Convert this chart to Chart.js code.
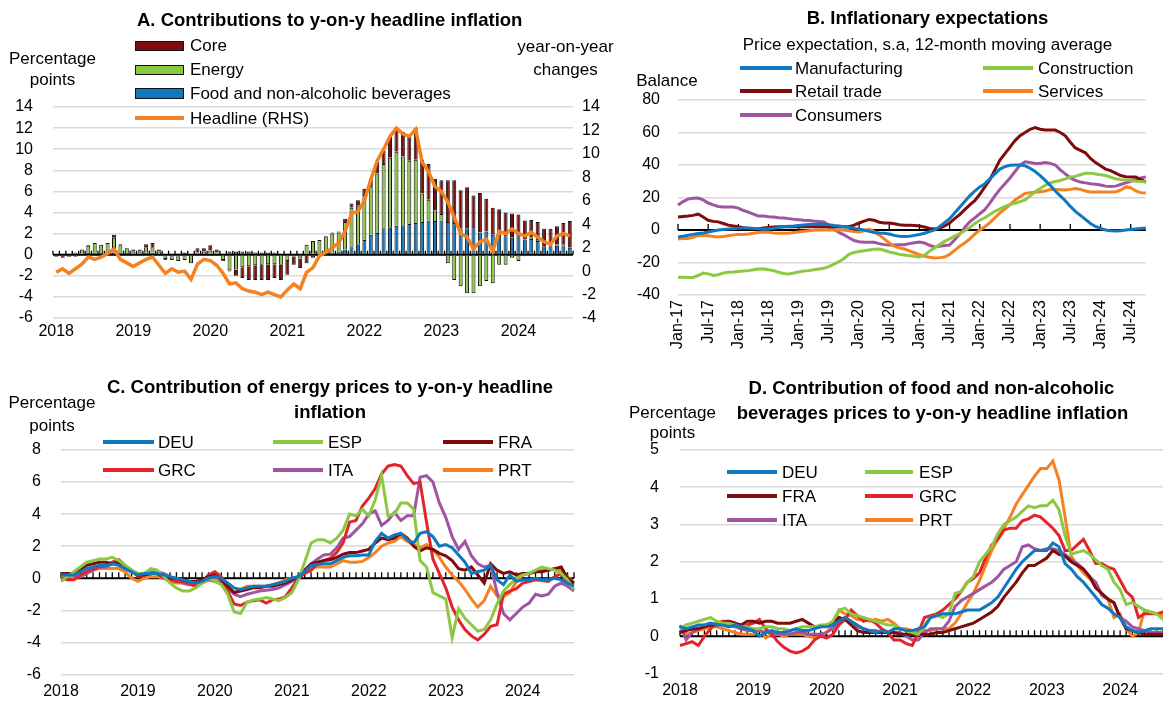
<!DOCTYPE html>
<html>
<head>
<meta charset="utf-8">
<script src="https://cdn.jsdelivr.net/npm/chart.js@4.4.1/dist/chart.umd.min.js"></script>
<style>
html, body { margin: 0; padding: 0; background: #fff; width: 1163px; height: 704px; overflow: hidden; }
body { position: relative; font-family: "Liberation Sans", Arial, sans-serif; color: #000; }
canvas { position: absolute; }
.t { position: absolute; white-space: nowrap; line-height: 1; }
.sw { position: absolute; box-sizing: border-box; }
</style>
</head>
<body>
<canvas id="panelA" width="620" height="350" style="left:0;top:0"></canvas>
<canvas id="panelB" width="570" height="370" style="left:600px;top:0"></canvas>
<canvas id="panelC" width="620" height="344" style="left:0;top:360px"></canvas>
<canvas id="panelD" width="560" height="344" style="left:620px;top:360px"></canvas>
<script>
// ---- data ----
var MON = ["Jan","Feb","Mar","Apr","May","Jun","Jul","Aug","Sep","Oct","Nov","Dec"];
function monthLabels(y0, n) {
    var out = [];
    for (var i = 0; i < n; i++) out.push(MON[i % 12] + "-" + String(y0 + Math.floor(i / 12)).slice(2));
    return out;
}
var monthsA = monthLabels(2018, 81);   // Jan-18 .. Sep-24
var monthsB = monthLabels(2017, 94);   // Jan-17 .. Oct-24

// A. contributions (percentage points) and headline (RHS, %)
var headline = [
    -0.1, 0.2, -0.2, 0.2, 0.6, 1.2, 1.0, 1.2, 1.5, 1.9, 1.0, 0.7,
    0.4, 0.7, 1.0, 1.2, 0.5, -0.2, 0.2, -0.1, 0.0, -0.7, 0.6, 1.0,
    0.9, 0.5, -0.2, -1.1, -1.0, -1.5, -1.7, -1.8, -2.0, -1.8, -2.0, -2.2,
    -1.6, -1.1, -1.5, -0.1, 0.3, 1.3, 1.6, 2.0, 2.4, 3.4, 4.9, 5.1,
    6.0, 7.8, 9.4, 10.4, 11.5, 12.2, 11.7, 11.5, 12.1, 9.3, 8.5, 7.2,
    6.8, 5.9, 4.6, 3.2, 2.9, 1.9, 2.5, 2.7, 1.7, 3.4, 3.2, 3.6,
    3.2, 3.0, 3.3, 2.9, 2.5, 2.3, 3.0, 3.2, 3.0
];
var core = [
    -0.1, -0.2, -0.1, -0.1, 0.0, 0.1, 0.0, -0.1, 0.0, 0.3, 0.1, -0.1,
    0.2, 0.2, 0.3, 0.4, 0.2, -0.1, 0.1, 0.1, 0.2, 0.1, 0.4, 0.3,
    0.5, 0.3, -0.1, -0.1, -0.6, -1.0, -1.3, -1.4, -1.45, -1.5, -1.3, -1.45,
    -1.3, -0.75, -0.9, -0.8, -0.3, -0.2, 0.0, 0.1, 0.1, 0.3, 0.4, 0.5,
    0.6, 0.8, 1.1, 1.3, 2.0, 2.25, 2.35, 2.3, 3.0, 3.2, 3.4, 3.0,
    3.2, 3.95, 4.05, 3.6, 3.9, 3.1, 3.75, 3.1, 2.55, 2.4, 2.25, 2.3,
    2.05, 1.8, 1.7, 1.7, 1.65, 1.55, 1.75, 2.0, 2.55
];
var energy = [
    0.0, -0.1, -0.1, 0.2, 0.4, 0.7, 0.9, 0.8, 1.0, 1.4, 0.75, 0.45,
    0.2, 0.3, 0.5, 0.5, 0.3, -0.3, -0.3, -0.4, -0.3, -0.7, 0.2, 0.3,
    0.3, 0.1, -0.5, -1.5, -1.4, -1.2, -1.1, -1.0, -0.95, -0.9, -0.9, -0.95,
    -0.6, -0.2, -0.35, 0.85, 1.2, 1.3, 1.55, 1.8, 1.8, 2.6, 3.75, 3.65,
    4.25, 4.5, 5.65, 6.1, 6.6, 7.0, 6.5, 6.0, 6.0, 2.7, 1.95, 1.0,
    0.6, -0.8, -2.4, -3.0, -3.65, -3.65, -3.0, -2.5, -2.7, -0.95, -0.95, -0.3,
    -0.6, -0.15, 0.1, 0.1, -0.1, 0.1, 0.1, 0.2, -0.1
];
var food = [
    -0.1, 0.1, 0.1, -0.1, 0.1, 0.15, 0.2, 0.15, 0.1, 0.2, 0.15, 0.15,
    0.1, -0.1, 0.2, 0.2, 0.0, -0.1, -0.2, -0.2, -0.2, -0.1, 0.0, 0.0,
    0.1, 0.1, 0.1, 0.3, 0.3, 0.3, 0.3, 0.2, 0.2, 0.2, 0.2, 0.1,
    0.1, 0.1, 0.1, 0.1, 0.1, 0.1, 0.2, 0.2, 0.3, 0.5, 0.7, 1.0,
    1.4, 1.9, 2.05, 2.5, 2.6, 2.75, 2.8, 2.9, 3.0, 3.1, 3.25, 3.2,
    3.25, 3.1, 3.0, 2.5, 2.5, 2.5, 2.1, 2.2, 1.9, 1.9, 1.75, 1.6,
    1.75, 1.45, 1.5, 1.3, 0.8, 0.8, 0.85, 0.8, 0.65
];

// B. price expectations (balance)
var manufacturing = [
    -4.3, -3.8, -3.2, -2.7, -2.2, -1.8, -1.2, -0.6, 0, 0.3, 0.6, 0.8,
    1, 1.2, 1.2, 1, 0.8, 0.6, 0.6, 1, 1.5, 2, 2.3, 2.5,
    2.8, 3.1, 3.4, 3.6, 3.7, 3.6, 3.3, 2.8, 2.4, 2, 1.5, 1,
    0.5, 0, -0.8, -1.5, -1.8, -2, -2.5, -3.3, -3.8, -4, -3.8, -3.3,
    -2.8, -2, -1, 0, 2, 4.5, 7, 10.5, 14, 17.5, 21, 24,
    26.5, 28.5, 31.5, 34.5, 37.5, 39, 39.8, 40, 40, 39.5, 38, 36,
    33.5, 30.5, 27.5, 24, 21, 18, 14.5, 11.5, 9, 6.5, 4, 2.2,
    1, 0, -0.5, -0.6, -0.4, 0, 0.3, 0.6, 0.9, 1.2
];
var retailTrade = [
    8, 8.3, 8.6, 9, 9.8, 8, 6, 5.3, 5, 4, 3, 2.5,
    2, 1.4, 1, 0.6, 0.8, 1.2, 1.5, 1.8, 2, 2, 2, 2,
    2, 2, 2, 2, 2, 2, 2, 2, 2, 2, 2, 3,
    4.3, 5.5, 6.5, 6, 4.8, 4.3, 4.3, 3.8, 3.3, 3, 3, 2.8,
    2.5, 1.8, 1, 0.6, 1, 2.5, 4.3, 7, 9.5, 12.5, 15.5, 18,
    22, 26.5, 31, 37, 43, 47, 51, 55, 58, 60, 62, 63,
    62, 61.5, 61.5, 61.5, 60, 58, 54, 50.5, 49, 47.5, 44, 41.5,
    39.5, 37.5, 36.5, 35, 33.5, 32.8, 32.6, 32.6, 31, 29.5
];
var consumers = [
    15.4, 17.5, 19, 19.5, 19.7, 18.5, 16.6, 15.5, 14.5, 14.2, 14.2, 14.2,
    13.5, 12, 11, 9.8, 8.6, 8.6, 8.2, 8, 7.6, 7.4, 7, 6.6,
    6.3, 6, 5.8, 5.5, 5.3, 5, 3, 0.5, -1.5, -3, -4.8, -6.5,
    -7.2, -7.6, -7.5, -7.6, -8.4, -9, -9.2, -9.2, -9, -9, -8.4, -7.8,
    -7.4, -8, -9.4, -10.4, -10, -9.5, -9.2, -6, -2.5, 1.5, 5, 7.5,
    10, 12.5, 16.5, 21, 25, 28.5, 32, 36, 40, 42, 41.5, 41,
    41, 41.5, 41, 40, 37, 34.5, 32, 30.5, 29.5, 29, 28.5, 28.2,
    27.7, 27, 26.8, 27, 28, 29, 30, 31, 32, 32.6
];
var construction = [
    -29, -29, -29.2, -29.2, -28, -26.5, -27, -28, -27.5, -26.5, -26, -25.8,
    -25.5, -25.3, -25, -24.5, -24, -24, -24.5, -25, -26, -26.8, -27, -26.5,
    -25.8, -25.3, -25, -24.5, -24, -23.5, -22.5, -21, -19.5, -17.5, -15, -13.8,
    -13.2, -12.8, -12.3, -11.8, -11.7, -12.5, -13.5, -14.2, -15, -15.4, -15.8, -16.2,
    -16.6, -15.5, -13, -11, -9, -7, -5.5, -3.8, -2.2, -0.5, 1.5, 4,
    6, 7.5, 9.5, 11.5, 13, 14.5, 15.8, 16.5, 17.5, 18.5, 21, 23.5,
    25.5, 27.5, 29, 29.8, 30.5, 31.5, 32.6, 33, 34, 35, 35, 34.5,
    34, 33.5, 32.5, 31.5, 31, 30.8, 30.5, 30, 29.8, 29.5
];
var services = [
    -5.5, -5.3, -5.2, -4.5, -3.5, -3.2, -3.6, -4, -4.3, -4, -3.5, -3,
    -2.8, -2.7, -2.5, -2, -1.5, -1.2, -1.4, -1.8, -2, -2, -2, -1.6,
    -1.2, -0.8, -0.5, -0.2, 0, 0, 0, 0, 0, 0, -0.5, -1,
    -1.2, -0.5, 0.6, -1, -3, -5.5, -8, -10, -11, -11.7, -12.8, -14,
    -15.2, -16.2, -16.8, -17.2, -17, -16.6, -15, -12.5, -10, -8, -5.5, -2.5,
    0, 2, 4.5, 7.5, 10.5, 13, 15.5, 18.5, 20.5, 22.5, 23, 23.3,
    23.5, 24, 25, 25, 24.8, 24.6, 25, 25.5, 25, 24, 23.4, 23.4,
    23.4, 23.4, 23.4, 23.6, 24.5, 26.5, 26, 24, 23, 22.7
];

// C. energy contributions by country
var energyDEU = [
    0.2, 0.2, 0.2, 0.4, 0.6, 0.7, 0.8, 0.8, 0.9, 0.8, 0.6, 0.4,
    0.2, 0.3, 0.3, 0.3, 0.2, 0.1, 0.0, -0.1, -0.2, -0.3, -0.2, 0.0,
    0.1, 0.0, -0.3, -0.6, -0.7, -0.6, -0.5, -0.5, -0.5, -0.4, -0.3, -0.2,
    0.0, 0.1, 0.4, 0.8, 0.85, 0.9, 0.9, 1.1, 1.3, 1.4, 1.4, 1.45,
    1.45, 2.3, 2.8, 2.5, 2.7, 2.8, 2.4, 2.2, 2.8, 2.9, 2.6, 2.0,
    2.1, 1.9, 1.45, 1.0, 0.3, 0.4, 0.5, 0.8, -0.1, -0.4, 0.2, -0.2,
    -0.1, -0.1, 0.0, -0.1, -0.1, 0.0, -0.1, -0.3, -0.5
];
var energyESP = [
    -0.2, 0.1, 0.4, 0.7, 1.0, 1.1, 1.2, 1.2, 1.3, 1.1, 0.8, 0.5,
    0.3, 0.3, 0.6, 0.5, 0.1, -0.3, -0.6, -0.8, -0.8, -0.6, -0.3, 0.0,
    -0.2, -0.4, -1.0, -2.1, -2.2, -1.5, -1.35, -1.3, -1.2, -1.3, -1.4, -1.2,
    -0.9, -0.1, 1.0, 2.2, 2.4, 2.4, 2.2, 2.5, 3.0, 4.0, 3.9, 4.3,
    3.9, 4.9, 6.4, 3.9, 4.0, 4.7, 4.7, 4.3, 1.1, 0.7, -0.9, -1.1,
    -1.3, -3.7, -1.9, -2.5, -2.9, -3.3, -3.2, -2.6, -1.6, -0.8, -0.4, 0.0,
    0.2, 0.3, 0.5, 0.7, 0.6, 0.5, 0.3, -0.1, -0.7
];
var energyFRA = [
    0.3, 0.3, 0.3, 0.5, 0.8, 0.9, 1.0, 1.0, 0.9, 1.0, 0.7, 0.4,
    0.2, 0.2, 0.3, 0.3, 0.1, 0.0, 0.0, -0.1, -0.2, -0.2, -0.1, 0.1,
    0.2, -0.1, -0.5, -0.9, -0.8, -0.7, -0.6, -0.6, -0.5, -0.5, -0.4, -0.3,
    -0.1, 0.1, 0.5, 0.9, 1.0, 1.1, 1.15, 1.3, 1.5, 1.6, 1.6, 1.7,
    1.8, 2.2, 2.5, 2.4, 2.5, 2.8, 2.5, 2.0, 1.7, 1.9, 1.8, 1.55,
    1.4, 1.1, 0.6, 0.5, 0.7, 0.2, -0.3, 0.9, 0.5, 0.3, 0.4, 0.2,
    0.3, 0.3, 0.4, 0.4, 0.5, 0.6, 0.7, 0.0, -0.3
];
var energyGRC = [
    0.0, -0.1, -0.1, 0.2, 0.4, 0.6, 0.7, 0.8, 1.0, 1.15, 0.8, 0.5,
    0.1, 0.2, 0.3, 0.3, 0.0, -0.1, -0.2, -0.2, -0.3, -0.5, -0.2, 0.2,
    0.4, 0.1, -0.8, -1.6, -1.7, -1.5, -1.4, -1.35, -1.55, -1.35, -1.3, -1.15,
    -0.6, 0.0, 0.3, 0.5, 0.9, 1.1, 1.25, 1.6, 2.2, 3.5, 3.6, 4.5,
    5.0, 5.6, 6.5, 7.0, 7.1, 7.0, 6.4, 5.9, 6.0, 3.5, 1.2, 0.3,
    -0.6, -1.8, -2.6, -3.2, -3.6, -3.85, -3.5, -3.0, -2.9, -1.0, -0.8, -0.65,
    -0.3, -0.2, -0.1, -0.15, -0.2, 0.1, 0.3, -0.3, -0.4
];
var energyITA = [
    0.3, 0.3, 0.2, 0.1, 0.3, 0.5, 0.7, 0.7, 0.9, 0.9, 0.6, 0.4,
    0.3, 0.3, 0.4, 0.4, 0.3, 0.1, -0.1, -0.3, -0.4, -0.3, -0.2, -0.1,
    -0.2, -0.3, -0.6, -1.0, -1.15, -1.0, -0.9, -0.8, -0.75, -0.7, -0.6, -0.4,
    -0.2, 0.0, 0.5, 0.9, 1.2, 1.45, 1.5, 1.9, 2.5, 2.6, 3.0, 3.4,
    4.0, 4.2, 3.3, 3.6, 4.1, 3.6, 3.9, 3.9, 6.3, 6.4, 6.0, 4.7,
    3.8, 2.6, 1.8, 2.3, 1.4, 0.9, 0.7, 0.8, -0.9, -2.2, -2.6, -2.2,
    -1.8, -1.55, -1.0, -1.1, -1.0, -0.5, -0.3, -0.5, -0.8
];
var energyPRT = [
    0.1, 0.1, 0.0, 0.1, 0.3, 0.5, 0.6, 0.6, 0.6, 0.6, 0.4, 0.0,
    -0.2, 0.0, 0.1, 0.1, 0.0, -0.2, -0.3, -0.3, -0.4, -0.5, -0.3, -0.1,
    0.1, -0.2, -0.5, -0.9, -0.7, -0.5, -0.5, -0.5, -0.5, -0.4, -0.3, -0.1,
    0.0, 0.1, 0.4, 0.7, 0.7, 0.7, 0.7, 0.9, 1.1, 1.0, 1.0, 1.05,
    1.3, 1.6, 2.0, 2.2, 2.3, 2.6, 2.3, 2.1, 1.9, 2.1, 1.8, 1.3,
    0.7, 0.2, -0.2, -0.7, -1.3, -1.8, -1.4, -0.5, -1.1, -1.15, -0.9, -0.2,
    0.2, 0.3, 0.4, 0.5, 0.5, 0.6, 0.5, 0.1, -0.3
];

// D. food and non-alcoholic beverages contributions by country
var foodDEU = [
    0.25, 0.2, 0.25, 0.3, 0.3, 0.35, 0.3, 0.3, 0.25, 0.3, 0.25, 0.2,
    0.15, 0.0, 0.1, 0.15, 0.1, 0.1, 0.15, 0.2, 0.15, 0.15, 0.2, 0.25,
    0.25, 0.3, 0.4, 0.5, 0.4, 0.3, 0.2, 0.15, 0.1, 0.15, 0.1, 0.2,
    0.2, 0.15, 0.15, 0.2, 0.25, 0.5, 0.55, 0.6, 0.6, 0.6, 0.65, 0.7,
    0.7, 0.7, 0.8, 0.9, 1.05, 1.3, 1.55, 1.8, 2.0, 2.15, 2.3, 2.3,
    2.3, 2.5, 2.4, 1.95, 1.8, 1.6, 1.45, 1.25, 1.05, 0.85, 0.75, 0.6,
    0.5, 0.25, 0.15, 0.1, 0.15, 0.2, 0.2, 0.2, 0.25
];
var foodESP = [
    0.2, 0.3, 0.35, 0.4, 0.45, 0.5, 0.4, 0.35, 0.35, 0.3, 0.25, 0.25,
    0.2, 0.2, 0.25, 0.25, 0.2, 0.2, 0.15, 0.2, 0.25, 0.25, 0.25, 0.3,
    0.3, 0.4, 0.7, 0.75, 0.6, 0.55, 0.5, 0.45, 0.4, 0.35, 0.3, 0.3,
    0.2, 0.15, 0.1, 0.05, 0.3, 0.5, 0.55, 0.5, 0.6, 1.15, 1.2, 1.45,
    1.6, 2.0, 2.2, 2.4, 2.75, 3.0, 3.1, 3.2, 3.35, 3.5, 3.45, 3.5,
    3.5, 3.65, 3.4, 2.7, 2.2, 2.25, 2.3, 2.2, 2.05, 1.9, 1.8, 1.45,
    1.25, 0.85, 0.9, 0.8, 0.7, 0.65, 0.6, 0.45, 0.35
];
var foodFRA = [
    0.1, 0.15, 0.2, 0.2, 0.25, 0.3, 0.3, 0.35, 0.4, 0.35, 0.3, 0.4,
    0.4, 0.35, 0.4, 0.4, 0.35, 0.35, 0.35, 0.4, 0.45, 0.35, 0.25, 0.25,
    0.3, 0.35, 0.5, 0.45, 0.3, 0.15, 0.1, 0.1, 0.1, 0.1, 0.1, 0.1,
    0.05, 0.05, 0.05, 0.05, 0.05, 0.05, 0.1, 0.1, 0.15, 0.2, 0.25, 0.3,
    0.35, 0.45, 0.55, 0.65, 0.8, 1.05, 1.25, 1.45, 1.7, 1.9, 1.9, 2.0,
    2.1, 2.3, 2.2, 2.15, 2.0, 1.9, 1.8, 1.6, 1.3, 1.15, 1.0, 0.9,
    0.5, 0.2, 0.15, 0.1, 0.05, 0.05, 0.05, 0.05, 0.05
];
var foodGRC = [
    -0.25, -0.2, -0.15, -0.25, 0.0, 0.2, 0.35, 0.4, 0.4, 0.35, 0.2, 0.3,
    0.35, 0.45, 0.2, 0.05, -0.15, -0.3, -0.4, -0.45, -0.4, -0.3, -0.1, 0.0,
    -0.05, 0.05, 0.3, 0.45, 0.7, 0.55, 0.4, 0.45, 0.35, 0.2, 0.1, -0.1,
    -0.1, -0.2, -0.25, 0.1, 0.5, 0.55, 0.6, 0.7, 0.85, 1.0, 1.2, 1.45,
    1.55, 1.7, 2.1, 2.45, 2.6, 2.85, 2.9, 2.9, 3.1, 3.15, 3.25, 3.2,
    3.05, 2.9, 2.7, 2.3, 2.3, 2.45, 2.6, 2.3, 1.95, 1.95, 1.85, 1.8,
    1.5, 1.2, 1.05, 0.5, 0.6, 0.6, 0.6, 0.65, 0.65
];
var foodITA = [
    0.3, -0.1, 0.1, 0.2, 0.25, 0.3, 0.35, 0.3, 0.3, 0.25, 0.2, 0.15,
    0.15, 0.15, 0.1, 0.1, 0.05, 0.05, 0.05, 0.1, 0.1, 0.05, 0.05, 0.05,
    0.1, 0.2, 0.4, 0.5, 0.4, 0.25, 0.2, 0.15, 0.15, 0.1, 0.1, 0.1,
    0.1, 0.0, -0.1, -0.1, 0.1, 0.2, 0.2, 0.2, 0.4, 0.8, 0.95, 1.05,
    1.15, 1.25, 1.35, 1.45, 1.6, 1.8, 1.9, 2.0, 2.4, 2.45, 2.35, 2.3,
    2.35, 2.35, 2.3, 2.2, 2.05, 1.95, 1.8, 1.6, 1.45, 1.1, 1.0, 0.9,
    0.5, 0.4, 0.25, 0.2, 0.15, 0.1, 0.1, 0.1, 0.15
];
var foodPRT = [
    0.25, 0.05, 0.1, 0.15, 0.2, 0.25, 0.25, 0.2, 0.15, 0.1, 0.05, 0.05,
    0.05, 0.2, -0.05, 0.05, 0.05, 0.0, 0.05, 0.05, 0.05, 0.0, -0.05, 0.0,
    0.1, 0.3, 0.7, 0.6, 0.55, 0.45, 0.45, 0.4, 0.45, 0.4, 0.45, 0.35,
    0.2, 0.2, 0.15, 0.1, 0.15, 0.15, 0.2, 0.2, 0.2, 0.35, 0.6, 0.9,
    1.15, 1.5, 1.9, 2.3, 2.6, 2.9, 3.2, 3.55, 3.8, 4.05, 4.3, 4.5,
    4.5, 4.7, 4.2, 3.2, 2.15, 1.9, 1.7, 1.55, 1.45, 1.1, 1.0, 0.5,
    0.6, 0.2, 0.0, 0.1, 0.7, 0.65, 0.6, 0.55, 0.5
];

// ---- styling ----
var BLUE = "#1078c0", GREEN = "#8cc841", DARKRED = "#7e0c0c", RED = "#e3242b",
    PURPLE = "#a154a1", ORANGE = "#f58220";

Chart.defaults.font.family = '"Liberation Sans", Arial, sans-serif';
Chart.defaults.font.size = 16;
Chart.defaults.color = "#000";
Chart.defaults.animation = false;
Chart.defaults.events = [];
Chart.defaults.plugins.legend.display = false;
Chart.defaults.plugins.tooltip.enabled = false;

// black zero line with small tick marks
var zeroAxis = {
    id: "zeroAxis",
    beforeDatasetsDraw: function(chart, args, o) {
        var ctx = chart.ctx, a = chart.chartArea, xs = chart.scales.x;
        var y = chart.scales.y.getPixelForValue(0);
        var step = xs.getPixelForValue(1) - xs.getPixelForValue(0);
        ctx.save();
        ctx.strokeStyle = "#000";
        ctx.lineWidth = 2;
        ctx.beginPath(); ctx.moveTo(a.left, y); ctx.lineTo(a.right, y); ctx.stroke();
        ctx.lineWidth = 1.3;
        ctx.beginPath();
        for (var i = 0; i <= chart.data.labels.length; i += o.every) {
            var px = xs.getPixelForValue(i) - (o.between ? step / 2 : 0);
            if (px > a.right + 1) break;
            ctx.moveTo(px, y); ctx.lineTo(px, y - o.len);
        }
        ctx.stroke();
        ctx.restore();
    }
};

function yScale(min, max, step, pad, width, extra) {
    var s = {
        min: min, max: max,
        ticks: { stepSize: step, padding: pad, autoSkip: false },
        grid: { color: "#d9d9d9", lineWidth: 1.5, drawTicks: false },
        border: { display: false },
        afterFit: function(sc) { sc.width = width; }
    };
    for (var k in extra) s[k] = extra[k];
    return s;
}
function xScale(height, pad, cb, rot) {
    return {
        ticks: { autoSkip: false, maxRotation: rot, minRotation: rot, padding: pad, callback: cb },
        grid: { display: false, drawTicks: false },
        border: { display: false },
        afterFit: function(sc) { sc.height = height; }
    };
}
function yearTick(v) {
    var l = this.getLabelForValue(v);
    return l.indexOf("Jan") === 0 ? "20" + l.slice(4) : "";
}
function halfYearTick(v) {
    var l = this.getLabelForValue(v);
    return (l.indexOf("Jan") === 0 || l.indexOf("Jul") === 0) ? l : "";
}
function line(label, data, color) {
    return { type: "line", label: label, data: data, borderColor: color, backgroundColor: color,
             borderWidth: 3, pointRadius: 0, tension: 0, fill: false };
}
function bars(label, data, color) {
    return { label: label, data: data, backgroundColor: color, borderColor: "#111",
             borderWidth: 1, barPercentage: 0.62, categoryPercentage: 1, order: 1 };
}

// ---- A ----
new Chart(document.getElementById("panelA"), {
    type: "bar",
    data: {
        labels: monthsA,
        datasets: [
            bars("Food and non-alcoholic beverages", food, BLUE),
            bars("Energy", energy, GREEN),
            bars("Core", core, DARKRED),
            Object.assign(line("Headline (RHS)", headline, ORANGE), { yAxisID: "y2", order: 0, borderWidth: 3.5 })
        ]
    },
    options: {
        responsive: false, devicePixelRatio: 1,
        layout: { padding: { top: 107, left: 0, right: 0, bottom: 0 } },
        scales: {
            x: Object.assign(xScale(32, 4, yearTick, 0), { stacked: true }),
            y: yScale(-6, 14, 2, 20, 53, { stacked: true }),
            y2: yScale(-4, 14, 2, 9, 47, { position: "right", grid: { display: false, drawTicks: false } })
        },
        plugins: { zeroAxis: { every: 1, len: 4, between: true } }
    },
    plugins: [zeroAxis]
});

// ---- B ----
new Chart(document.getElementById("panelB"), {
    type: "line",
    data: {
        labels: monthsB,
        datasets: [
            line("Manufacturing", manufacturing, BLUE),
            line("Construction", construction, GREEN),
            line("Retail trade", retailTrade, DARKRED),
            line("Services", services, ORANGE),
            line("Consumers", consumers, PURPLE)
        ]
    },
    options: {
        responsive: false, devicePixelRatio: 1,
        layout: { padding: { top: 100, left: 0, right: 6, bottom: 0 } },
        scales: {
            x: xScale(75, 5, halfYearTick, 90),
            y: yScale(-40, 80, 20, 18, 78)
        },
        plugins: { zeroAxis: { every: 6, len: 6, between: false } }
    },
    plugins: [zeroAxis]
});

// ---- C ----
new Chart(document.getElementById("panelC"), {
    type: "line",
    data: {
        labels: monthsA,
        datasets: [
            line("DEU", energyDEU, BLUE),
            line("ESP", energyESP, GREEN),
            line("FRA", energyFRA, DARKRED),
            line("GRC", energyGRC, RED),
            line("ITA", energyITA, PURPLE),
            line("PRT", energyPRT, ORANGE)
        ]
    },
    options: {
        responsive: false, devicePixelRatio: 1,
        layout: { padding: { top: 90, left: 0, right: 46, bottom: 0 } },
        scales: {
            x: xScale(29, 8, yearTick, 0),
            y: yScale(-6, 8, 2, 20, 61)
        },
        plugins: { zeroAxis: { every: 1, len: 6, between: false } }
    },
    plugins: [zeroAxis]
});

// ---- D ----
new Chart(document.getElementById("panelD"), {
    type: "line",
    data: {
        labels: monthsA,
        datasets: [
            line("DEU", foodDEU, BLUE),
            line("ESP", foodESP, GREEN),
            line("FRA", foodFRA, DARKRED),
            line("GRC", foodGRC, RED),
            line("ITA", foodITA, PURPLE),
            line("PRT", foodPRT, ORANGE)
        ]
    },
    options: {
        responsive: false, devicePixelRatio: 1,
        layout: { padding: { top: 90, left: 0, right: 11, bottom: 0 } },
        scales: {
            x: xScale(29, 8, yearTick, 0),
            y: yScale(-1, 5, 1, 21, 60)
        },
        plugins: { zeroAxis: { every: 1, len: 6, between: false } }
    },
    plugins: [zeroAxis]
});

// ---- titles, axis captions and legends ----
function txt(s, x, base, size, bold, center) {
    var d = document.createElement("div");
    d.className = "t";
    d.textContent = s;
    d.style.fontSize = size + "px";
    if (bold) d.style.fontWeight = "bold";
    d.style.left = x + "px";
    d.style.top = (base - 0.8465 * size) + "px";
    if (center) d.style.transform = "translateX(-50%)";
    document.body.appendChild(d);
}
function swLine(x1, x2, y, color) {
    var d = document.createElement("div");
    d.className = "sw";
    d.style.left = x1 + "px"; d.style.width = (x2 - x1) + "px";
    d.style.top = (y - 2) + "px"; d.style.height = "4px";
    d.style.background = color;
    document.body.appendChild(d);
}
function swBox(x1, x2, y1, y2, color) {
    var d = document.createElement("div");
    d.className = "sw";
    d.style.left = x1 + "px"; d.style.width = (x2 - x1) + "px";
    d.style.top = y1 + "px"; d.style.height = (y2 - y1) + "px";
    d.style.background = color; d.style.border = "1px solid #111";
    document.body.appendChild(d);
}

// A
txt("A. Contributions to y-on-y headline inflation", 137, 26.5, 18.5, true);
txt("Percentage", 52.5, 64, 17, false, true);
txt("points", 52.5, 85, 17, false, true);
txt("year-on-year", 565.5, 52.7, 17, false, true);
txt("changes", 565.5, 75, 17, false, true);
swBox(135, 184, 41, 51, DARKRED);   txt("Core", 190, 51.7, 17);
swBox(135, 184, 65, 75, GREEN);     txt("Energy", 190, 75, 17);
swBox(135, 184, 88, 99, BLUE);      txt("Food and non-alcoholic beverages", 190, 99, 17);
swLine(135, 184, 117.5, ORANGE);    txt("Headline (RHS)", 190, 124, 17);

// B
txt("B. Inflationary expectations", 927.5, 25, 18.5, true, true);
txt("Price expectation, s.a, 12-month moving average", 927.5, 50, 17, false, true);
txt("Balance", 667, 86, 17, false, true);
swLine(740, 792, 68.3, BLUE);     txt("Manufacturing", 795, 74, 17);
swLine(740, 792, 90.7, DARKRED);  txt("Retail trade", 795, 97, 17);
swLine(740, 792, 115, PURPLE);    txt("Consumers", 795, 121.5, 17);
swLine(983, 1033, 68.3, GREEN);   txt("Construction", 1038, 74, 17);
swLine(983, 1033, 90.7, ORANGE);  txt("Services", 1038, 97, 17);

// C
txt("C. Contribution of energy prices to y-on-y headline", 330, 393.3, 18.5, true, true);
txt("inflation", 330, 418.3, 18.5, true, true);
txt("Percentage", 52, 408.3, 17, false, true);
txt("points", 52, 431, 17, false, true);
swLine(103, 154, 441.7, BLUE);    txt("DEU", 158, 448, 17);
swLine(273, 323, 441.7, GREEN);   txt("ESP", 328, 448, 17);
swLine(443, 493, 441.7, DARKRED); txt("FRA", 498, 448, 17);
swLine(103, 154, 470, RED);       txt("GRC", 158, 476.5, 17);
swLine(273, 323, 470, PURPLE);    txt("ITA", 328, 476.5, 17);
swLine(443, 493, 470, ORANGE);    txt("PRT", 498, 476.5, 17);

// D
txt("D. Contribution of food and non-alcoholic", 931.5, 395, 18.5, true, true);
txt("beverages prices to y-on-y headline inflation", 932.5, 420, 18.5, true, true);
txt("Percentage", 672.5, 418.3, 17, false, true);
txt("points", 672.5, 438, 17, false, true);
swLine(727, 777, 471.7, BLUE);    txt("DEU", 782, 478, 17);
swLine(865, 913, 471.7, GREEN);   txt("ESP", 919, 478, 17);
swLine(727, 777, 496, DARKRED);   txt("FRA", 782, 502, 17);
swLine(865, 913, 496, RED);       txt("GRC", 919, 502, 17);
swLine(727, 777, 520, PURPLE);    txt("ITA", 782, 526, 17);
swLine(865, 913, 520, ORANGE);    txt("PRT", 919, 526, 17);
</script>
</body>
</html>
